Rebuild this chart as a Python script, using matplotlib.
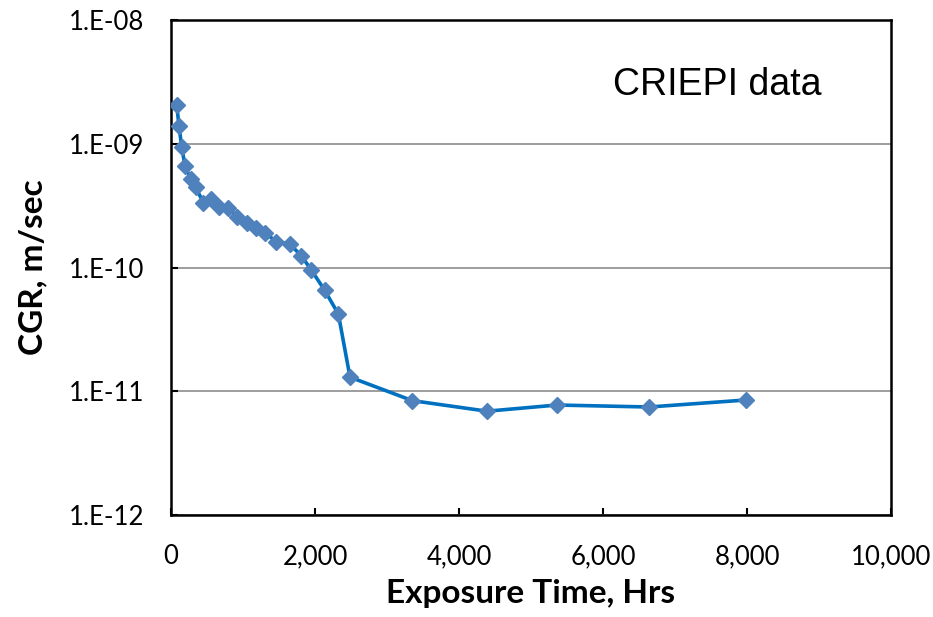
import matplotlib
matplotlib.use("Agg")
import matplotlib.pyplot as plt

# ----------------- data ----------------------------------------------- #
hours = [79, 111, 149, 194, 274, 343, 449, 556, 667, 796, 921, 1051, 1176,
         1306, 1458, 1646, 1808, 1950, 2132, 2324, 2486, 3351, 4389, 5361,
         6639, 7986]
cgr = [2.06e-9, 1.39e-9, 9.35e-10, 6.65e-10, 5.16e-10, 4.45e-10, 3.34e-10,
       3.58e-10, 3.06e-10, 3.01e-10, 2.57e-10, 2.30e-10, 2.10e-10, 1.91e-10,
       1.62e-10, 1.55e-10, 1.25e-10, 9.5e-11, 6.58e-11, 4.21e-11, 1.30e-11,
       8.4e-12, 6.9e-12, 7.74e-12, 7.46e-12, 8.5e-12]

x_ticks = [0, 2000, 4000, 6000, 8000, 10000]
x_labels = ["0", "2,000", "4,000", "6,000", "8,000", "10,000"]
y_ticks = [1e-12, 1e-11, 1e-10, 1e-9, 1e-8]
y_labels = ["1.E-12", "1.E-11", "1.E-10", "1.E-09", "1.E-08"]

# ----------------- plot ----------------------------------------------- #
plt.rcParams["font.family"] = ["Lato", "DejaVu Sans"]

fig = plt.figure(figsize=(9.33, 6.17), dpi=100)
ax = fig.add_axes([0.1833, 0.1653, 0.7717, 0.8023])

ax.plot(hours, cgr, color="#0070C0", linewidth=2.6, marker="D",
        markersize=7.8, markerfacecolor="#4F81BD", markeredgecolor="#4F81BD",
        zorder=3)

ax.set_yscale("log")
ax.set_xlim(0, 10000)
ax.set_ylim(1e-12, 1e-8)
ax.set_xticks(x_ticks)
ax.set_xticklabels(x_labels)
ax.set_yticks(y_ticks)
ax.set_yticklabels(y_labels)
ax.minorticks_off()
ax.tick_params(direction="in", length=5, width=1.5, labelsize=18.5)
ax.tick_params(axis="y", pad=19)
ax.tick_params(axis="x", pad=21)

ax.grid(axis="y", color="#8c8c8c", linewidth=1.2)
ax.set_axisbelow(True)
for sp in ax.spines.values():
    sp.set_linewidth(1.8)

ax.set_xlabel("Exposure Time, Hrs", fontsize=24, fontweight="bold", labelpad=7)
ax.set_ylabel("CGR, m/sec", fontsize=24, fontweight="bold", labelpad=16)

ax.text(0.758, 0.848, "CRIEPI data", transform=ax.transAxes, ha="center",
        va="baseline", fontsize=27, family="Liberation Sans")

fig.savefig("out.png", dpi=100)
